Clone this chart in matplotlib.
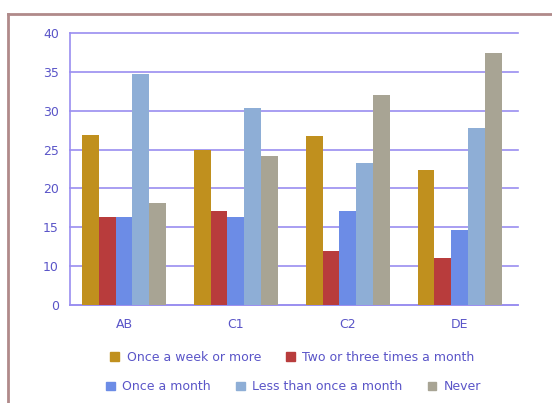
import matplotlib.pyplot as plt
from matplotlib.patches import Patch
import numpy as np

groups = ['AB', 'C1', 'C2', 'DE']
series = ['Once a week or more', 'Two or three times a month', 'Once a month',
          'Less than once a month', 'Never']
values = [
    [26.9, 25.0, 26.8, 22.4],   # once a week or more
    [16.3, 17.1, 11.9, 11.1],   # two or three times a month
    [16.3, 16.3, 17.1, 14.6],   # once a month
    [34.7, 30.4, 23.3, 27.8],   # less than once a month
    [18.1, 24.2, 32.0, 37.4],   # never
]
yticks = [5, 10, 15, 20, 25, 30, 35, 40]
ytick_labels = ['0', '10', '15', '20', '25', '30', '35', '40']

colors = ['#c0901e', '#b83c3c', '#6c8ce6', '#8eaed6', '#a8a494']
txt = '#5a55c8'
grid_c = '#9a8ef0'

fig = plt.figure(figsize=(5.52, 4.03), dpi=100)
ax = fig.add_axes([0.127, 0.243, 0.811, 0.675])

x = np.arange(len(groups))
w = 0.15
for i, (s, v) in enumerate(zip(series, values)):
    ax.bar(x + (i - 2) * w, v, width=w, color=colors[i], label=s, zorder=3)

ax.set_xlim(-0.482, 3.52)
ax.set_ylim(5, 40)
ax.set_yticks(yticks)
ax.set_yticklabels(ytick_labels)
ax.set_xticks(x)
ax.set_xticklabels(groups)
ax.tick_params(length=0, colors=txt, labelsize=9)
ax.tick_params(axis='y', pad=8)
ax.tick_params(axis='x', pad=9)
ax.yaxis.grid(True, color=grid_c, linewidth=1.2, zorder=0)
for gl in ax.get_ygridlines():
    gl.set_clip_on(False)
ax.set_axisbelow(True)
for sp in ['top', 'right']:
    ax.spines[sp].set_visible(False)
for sp in ['left', 'bottom']:
    ax.spines[sp].set_color(grid_c)
    ax.spines[sp].set_linewidth(1.2)

handles = [Patch(color=c) for c in colors]
leg_kw = dict(frameon=False, fontsize=9, handlelength=0.7, handleheight=0.7,
              handletextpad=0.6, labelcolor=txt)
fig.legend(handles[:2], series[:2], ncol=2, loc='center',
           bbox_to_anchor=(0.53, 0.113), columnspacing=2.0, **leg_kw)
fig.legend(handles[2:], series[2:], ncol=3, loc='center',
           bbox_to_anchor=(0.532, 0.04), columnspacing=2.0, **leg_kw)

# outer frame
fig.add_artist(plt.Line2D([0.014, 0.014], [0.0, 0.966], color='#b08a8a',
                          linewidth=2, transform=fig.transFigure))
fig.add_artist(plt.Line2D([0.014, 1.0], [0.966, 0.966], color='#b08a8a',
                          linewidth=2, transform=fig.transFigure))

plt.savefig('out.png', dpi=100)
